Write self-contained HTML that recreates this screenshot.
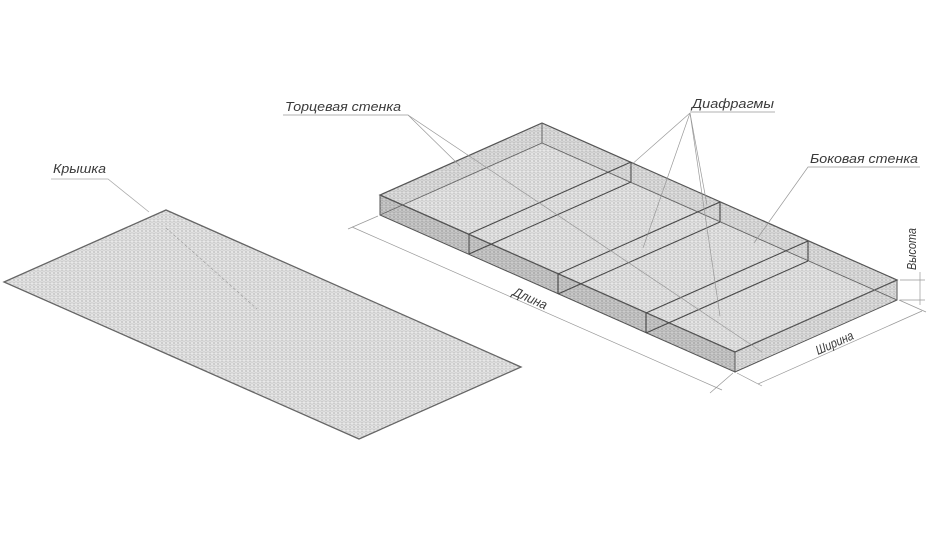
<!DOCTYPE html>
<html><head><meta charset="utf-8"><style>
html,body{margin:0;padding:0;background:#fff;}
svg{display:block;}
text{font-family:"Liberation Sans",sans-serif;font-style:italic;fill:#3a3a3a;font-size:13px;}
</style></head><body>
<svg width="930" height="534" viewBox="0 0 930 534" xmlns="http://www.w3.org/2000/svg">
<defs>
<pattern id="m" width="4" height="3.5" patternUnits="userSpaceOnUse">
<rect width="4" height="3.5" fill="#e8e8e8"/>
<circle cx="2" cy="1.75" r="1.2" fill="none" stroke="#bcbcbc" stroke-width="0.6"/>
</pattern>
<pattern id="d" width="4" height="3.5" patternUnits="userSpaceOnUse">
<rect width="4" height="3.5" fill="#cbcbcb"/>
<circle cx="2" cy="1.75" r="1.2" fill="none" stroke="#a0a0a0" stroke-width="0.6"/>
</pattern>
<pattern id="l" width="4" height="3.5" patternUnits="userSpaceOnUse">
<rect width="4" height="3.5" fill="#e0e0e0"/>
<circle cx="2" cy="1.75" r="1.2" fill="none" stroke="#b4b4b4" stroke-width="0.6"/>
</pattern>
</defs>

<!-- lid -->
<polygon points="4,282 166,210 521,367 359,439" fill="url(#m)" stroke="#666" stroke-width="1.3"/>
<line x1="166" y1="228" x2="257" y2="309" stroke="#999" stroke-width="0.6" stroke-dasharray="3,2"/>
<text x="53" y="173" textLength="53" lengthAdjust="spacingAndGlyphs">Крышка</text>
<polyline points="51,179 108,179 149,212" fill="none" stroke="#aaa" stroke-width="0.8"/>

<!-- box -->
<polygon points="380,215 542,143 897,300 735,372" fill="url(#m)"/>
<polygon points="542,123 897,280 897,300 542,143" fill="url(#l)"/>
<polygon points="380,195 542,123 542,143 380,215" fill="url(#l)"/>
<polygon points="380,195 735,352 735,372 380,215" fill="url(#d)" stroke="#555" stroke-width="1"/>
<polygon points="735,352 897,280 897,300 735,372" fill="url(#l)" stroke="#555" stroke-width="1"/>
<polygon points="380,195 542,123 897,280 735,352" fill="none" stroke="#555" stroke-width="1.2"/>
<polyline points="380,215 542,143 897,300" fill="none" stroke="#666" stroke-width="0.9"/>
<line x1="542" y1="123" x2="542" y2="143" stroke="#666" stroke-width="0.9"/>
<g stroke="#4a4a4a" stroke-width="1.1" fill="none">
<line x1="469" y1="234" x2="631" y2="162"/><line x1="469" y1="254" x2="631" y2="182"/>
<line x1="469" y1="234" x2="469" y2="254"/><line x1="631" y1="162" x2="631" y2="182"/>
<line x1="558" y1="274" x2="720" y2="202"/><line x1="558" y1="294" x2="720" y2="222"/>
<line x1="558" y1="274" x2="558" y2="294"/><line x1="720" y1="202" x2="720" y2="222"/>
<line x1="646" y1="313" x2="808" y2="241"/><line x1="646" y1="333" x2="808" y2="261"/>
<line x1="646" y1="313" x2="646" y2="333"/><line x1="808" y1="241" x2="808" y2="261"/>
</g>

<!-- leaders -->
<g stroke="#999" stroke-width="0.7" fill="none">
<polyline points="283,115 408,115 460,166"/>
<line x1="408" y1="115" x2="762" y2="352"/>
<polyline points="690,112 775,112"/>
<line x1="690" y1="113" x2="630" y2="166"/>
<line x1="690" y1="113" x2="643" y2="248"/>
<line x1="690" y1="113" x2="707" y2="205"/>
<line x1="690" y1="113" x2="720" y2="316"/>
<polyline points="920,167 808,167 754,243"/>
</g>
<text x="285" y="111" textLength="116" lengthAdjust="spacingAndGlyphs">Торцевая стенка</text>
<text x="692" y="108" textLength="82" lengthAdjust="spacingAndGlyphs">Диафрагмы</text>
<text x="810" y="163" textLength="108" lengthAdjust="spacingAndGlyphs">Боковая стенка</text>

<!-- dimensions -->
<g stroke="#999" stroke-width="0.7" fill="none">
<line x1="352" y1="227" x2="722" y2="390"/>
<line x1="378" y1="216" x2="348" y2="229"/>
<line x1="733" y1="373" x2="710" y2="393"/>
<line x1="758" y1="384" x2="922" y2="311"/>
<line x1="737" y1="373" x2="762" y2="386"/>
<line x1="899" y1="300" x2="926" y2="312"/>
<line x1="900" y1="280" x2="925" y2="280"/>
<line x1="900" y1="300" x2="925" y2="300"/>
<line x1="920" y1="272" x2="920" y2="305"/>
</g>
<text transform="translate(512,295) rotate(24)" textLength="36" lengthAdjust="spacingAndGlyphs">Длина</text>
<text transform="translate(818,355) rotate(-24)" textLength="40" lengthAdjust="spacingAndGlyphs">Ширина</text>
<text transform="translate(916,270) rotate(-90)" textLength="42" lengthAdjust="spacingAndGlyphs" font-size="12">Высота</text>
</svg>
</body></html>
